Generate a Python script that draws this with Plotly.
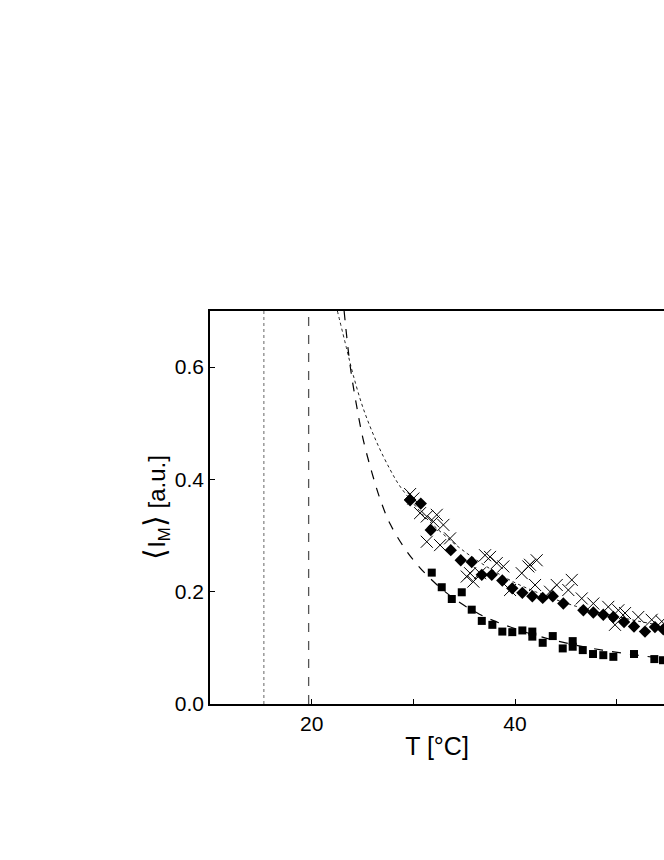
import plotly.graph_objects as go

# squares (lower data set)
sq_t = [31.81, 32.79, 33.78, 34.76, 35.74, 36.73, 37.77, 38.75, 39.73, 40.72,
        41.70, 41.70, 42.72, 43.71, 44.69, 45.67, 45.67, 46.66, 47.67, 48.68,
        49.67, 51.70, 53.70, 54.55]
sq_i = [0.234, 0.208, 0.187, 0.199, 0.168, 0.148, 0.141, 0.129, 0.128, 0.131,
        0.129, 0.120, 0.109, 0.121, 0.099, 0.112, 0.102, 0.096, 0.089, 0.087,
        0.084, 0.089, 0.080, 0.078]

# diamonds
dm_t = [29.68, 30.73, 31.71, 33.68, 34.66, 35.74, 36.73, 37.71, 38.75, 39.73,
        40.72, 41.70, 42.72, 43.71, 44.75, 46.72, 47.70, 48.68, 49.67, 50.72,
        51.70, 52.78, 53.76, 54.58]
dm_i = [0.363, 0.357, 0.310, 0.274, 0.256, 0.253, 0.230, 0.230, 0.220, 0.206,
        0.198, 0.192, 0.189, 0.192, 0.179, 0.167, 0.163, 0.159, 0.155, 0.146,
        0.138, 0.129, 0.137, 0.133]

# crosses
cr_t = [29.68, 30.00, 30.66, 31.32, 32.30, 31.97, 32.95, 31.32, 32.63, 33.61,
        37.05, 37.54, 38.20, 38.85, 35.25, 35.90, 35.58, 36.56, 39.51, 40.66,
        41.31, 42.13, 41.47, 41.97, 44.10, 45.58, 43.44, 45.24, 46.56, 47.70,
        49.17, 50.16, 50.82, 49.83, 52.12, 53.44, 54.43]
cr_i = [0.374, 0.366, 0.340, 0.334, 0.337, 0.325, 0.319, 0.289, 0.283, 0.295,
        0.265, 0.262, 0.251, 0.245, 0.227, 0.218, 0.233, 0.233, 0.203, 0.233,
        0.245, 0.256, 0.248, 0.212, 0.212, 0.221, 0.200, 0.203, 0.188, 0.179,
        0.173, 0.167, 0.162, 0.141, 0.155, 0.150, 0.147]

# fit curves
fit1_t = [22.53, 23.45, 24.10, 25.08, 26.40, 27.70, 28.60, 29.70, 31.00, 32.00,
          34.00, 36.00, 38.00, 40.00, 42.00, 44.00, 46.00, 48.00, 50.00, 52.00,
          54.00, 54.65]
fit1_i = [0.700, 0.632, 0.585, 0.526, 0.466, 0.418, 0.390, 0.364, 0.336, 0.318,
          0.286, 0.259, 0.236, 0.216, 0.200, 0.186, 0.174, 0.164, 0.156, 0.148,
          0.141, 0.139]
fit2_t = [23.19, 23.78, 24.43, 25.08, 25.91, 26.73, 27.71, 29.35, 31.30, 33.90,
          36.50, 38.50, 42.50, 47.00, 51.60, 54.65]
fit2_i = [0.700, 0.603, 0.530, 0.470, 0.413, 0.365, 0.321, 0.272, 0.230, 0.189,
          0.160, 0.144, 0.120, 0.101, 0.088, 0.081]

tc_dotted = 15.3
tc_dashed = 19.7

font = "Arial, Liberation Sans, Helvetica, sans-serif"

fig = go.Figure()

fig.add_vline(x=tc_dotted, line=dict(color="#666666", width=1, dash="dot"))
fig.add_vline(x=tc_dashed, line=dict(color="#555555", width=1.3, dash="dash"))

fig.add_trace(go.Scatter(x=fit1_t, y=fit1_i, mode="lines", line_shape="spline",
                         line=dict(color="#222222", width=1, dash="dot"),
                         showlegend=False, hoverinfo="skip"))
fig.add_trace(go.Scatter(x=fit2_t, y=fit2_i, mode="lines", line_shape="spline",
                         line=dict(color="black", width=1.2, dash="dash"),
                         showlegend=False, hoverinfo="skip"))

fig.add_trace(go.Scatter(x=cr_t, y=cr_i, mode="markers", showlegend=False,
                         marker=dict(symbol="x-thin", size=12, color="black",
                                     line=dict(color="black", width=1))))
fig.add_trace(go.Scatter(x=dm_t, y=dm_i, mode="markers", showlegend=False,
                         marker=dict(symbol="diamond", size=9.5, color="black")))
fig.add_trace(go.Scatter(x=sq_t, y=sq_i, mode="markers", showlegend=False,
                         marker=dict(symbol="square", size=8, color="black")))

fig.update_layout(
    width=664, height=860,
    margin=dict(l=210, r=0, t=311, b=156),
    plot_bgcolor="white", paper_bgcolor="white",
    font=dict(family=font, color="black", size=21),
)
fig.update_xaxes(
    range=[10, 54.65],
    tickvals=[20, 40],
    ticks="inside", ticklen=5, tickwidth=1, tickcolor="black",
    minor=dict(ticks="inside", tick0=10, dtick=10, ticklen=5, tickwidth=1,
               tickcolor="black", showgrid=False),
    showline=True, linecolor="black", linewidth=1.5, mirror=True,
    showgrid=False, zeroline=False,
    tickfont=dict(size=21),
    title=dict(text="T [°C]", font=dict(size=25), standoff=4),
)
fig.update_yaxes(
    range=[0, 0.7],
    tickvals=[0.0, 0.2, 0.4, 0.6], tickformat=".1f",
    ticks="inside", ticklen=5, tickwidth=1, tickcolor="black",
    showline=True, linecolor="black", linewidth=1.5, mirror=False,
    showgrid=False, zeroline=False,
    tickfont=dict(size=21),
    title=dict(text="<span style='font-size:30px'>⟨</span>I<sub>M</sub>"
                    "<span style='font-size:30px'>⟩</span> [a.u.]",
               font=dict(size=24), standoff=2),
)

# drop the page's default body margin so the figure fills the window exactly
fig.write_html("out.html",
               config={"displayModeBar": False},
               post_script="document.body.style.margin='0';"
                           "document.body.style.overflow='hidden';")
